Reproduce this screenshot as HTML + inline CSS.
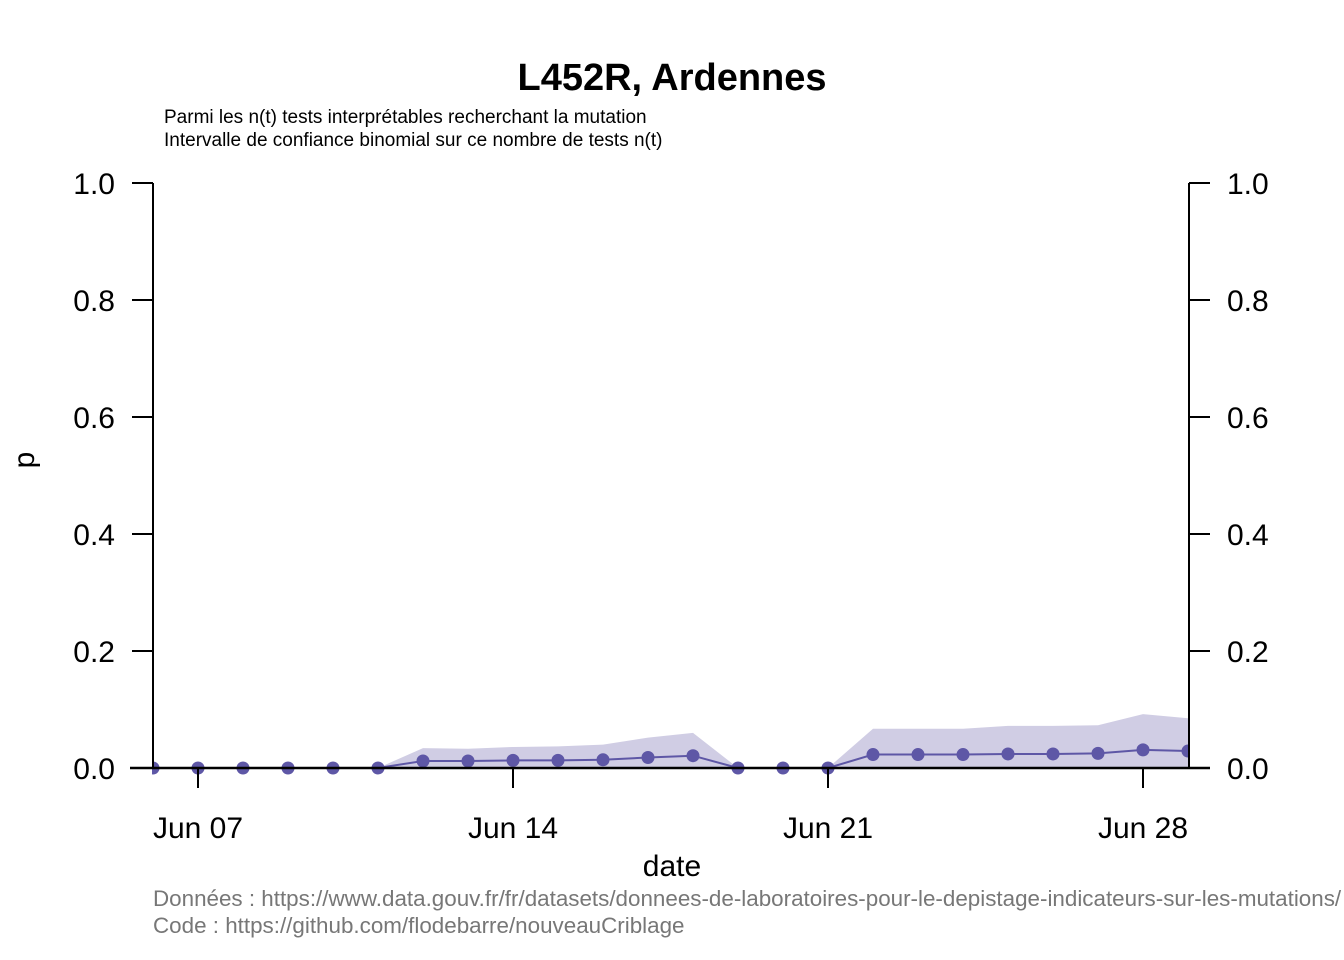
<!DOCTYPE html>
<html><head><meta charset="utf-8"><style>
body{margin:0;background:#fff;}
svg{display:block;font-family:"Liberation Sans",Arial,sans-serif;}
</style></head><body>
<svg id="chart" width="1344" height="960">
<text x="672" y="90" text-anchor="middle" font-size="38" font-weight="bold">L452R, Ardennes</text>
<text x="164" y="123" font-size="19">Parmi les n(t) tests interprétables recherchant la mutation</text>
<text x="164" y="146" font-size="19">Intervalle de confiance binomial sur ce nombre de tests n(t)</text>
<g id="band"></g>
<g id="series"></g>
<g id="axes"></g>
<text x="672" y="876" text-anchor="middle" font-size="30">date</text>
<text transform="translate(34,460) rotate(-90)" text-anchor="middle" font-size="30">p</text>
<text x="153" y="906" font-size="22.4" fill="#777">Données : https://www.data.gouv.fr/fr/datasets/donnees-de-laboratoires-pour-le-depistage-indicateurs-sur-les-mutations/</text>
<text x="153" y="933" font-size="22.4" fill="#777">Code : https://github.com/flodebarre/nouveauCriblage</text>
</svg>
<script>
const days = [6,7,8,9,10,11,12,13,14,15,16,17,18,19,20,21,22,23,24,25,26,27,28,29];
const pValues = [0,0,0,0,0,0,0.012,0.012,0.013,0.013,0.014,0.018,0.021,0,0,0,0.023,0.023,0.023,0.024,0.024,0.025,0.031,0.029];
const upperValues = [0,0,0,0,0,0,0.034,0.033,0.036,0.037,0.040,0.052,0.060,0,null,0,0.067,0.067,0.067,0.072,0.072,0.073,0.092,0.085];
const yTicks = ["0.0","0.2","0.4","0.6","0.8","1.0"];
const xTickDays = [7,14,21,28];
const xTickLabels = ["Jun 07","Jun 14","Jun 21","Jun 28"];
const X0=153,X1=1189,Y0=768,Y1=183;
const xs = d => X0 + (d-6)*45;
const ys = v => Y0 - v*(Y0-Y1);
const NS="http://www.w3.org/2000/svg";
function mk(tag,attrs,parent){const e=document.createElementNS(NS,tag);for(const k in attrs)e.setAttribute(k,attrs[k]);parent.appendChild(e);return e;}
const band=document.getElementById('band'),series=document.getElementById('series'),axes=document.getElementById('axes');
let seg=[];
const segs=[];
days.forEach((d,i)=>{if(upperValues[i]===null){if(seg.length)segs.push(seg);seg=[];}else seg.push(i);});
if(seg.length)segs.push(seg);
segs.forEach(s=>{
  let pts=s.map(i=>xs(days[i])+','+ys(upperValues[i]));
  pts.push(xs(days[s[s.length-1]])+','+Y0, xs(days[s[0]])+','+Y0);
  const p=mk('polygon',{points:pts.join(' '),fill:'#d0cde4'},band);
  
  
});
const line=mk('polyline',{points:days.map((d,i)=>xs(d)+','+ys(pValues[i])).join(' '),fill:'none',stroke:'#5e57a6','stroke-width':2},series);


days.forEach((d,i)=>{
  const c=mk('circle',{cx:xs(d),cy:ys(pValues[i]),r:6.5,fill:'#5e57a6'},series);
  
  
});
mk('rect',{x:X1+1,y:150,width:160,height:640,fill:'#fff'},axes);
mk('rect',{x:0,y:150,width:X0-1,height:640,fill:'#fff'},axes);
mk('line',{x1:X0,y1:Y1,x2:X0,y2:Y0,stroke:'#000','stroke-width':2},axes);
mk('line',{x1:X1,y1:Y1,x2:X1,y2:Y0,stroke:'#000','stroke-width':2},axes);
mk('line',{x1:130,y1:Y0,x2:1210,y2:Y0,stroke:'#000','stroke-width':2.5},axes);
yTicks.forEach(t=>{
  const y=ys(parseFloat(t));
  mk('line',{x1:X0-21,y1:y,x2:X0,y2:y,stroke:'#000','stroke-width':2},axes);
  mk('line',{x1:X1,y1:y,x2:X1+21,y2:y,stroke:'#000','stroke-width':2},axes);
  const a=mk('text',{x:115,y:y+11,'text-anchor':'end','font-size':30},axes);a.textContent=t;
  
  
  const b=mk('text',{x:1227,y:y+11,'font-size':30},axes);b.textContent=t;
  
  
});
xTickDays.forEach((d,i)=>{
  const x=xs(d);
  mk('line',{x1:x,y1:Y0,x2:x,y2:788,stroke:'#000','stroke-width':2},axes);
  const t=mk('text',{x:x,y:838,'text-anchor':'middle','font-size':30},axes);t.textContent=xTickLabels[i];
  
  
});
</script>
</body></html>
